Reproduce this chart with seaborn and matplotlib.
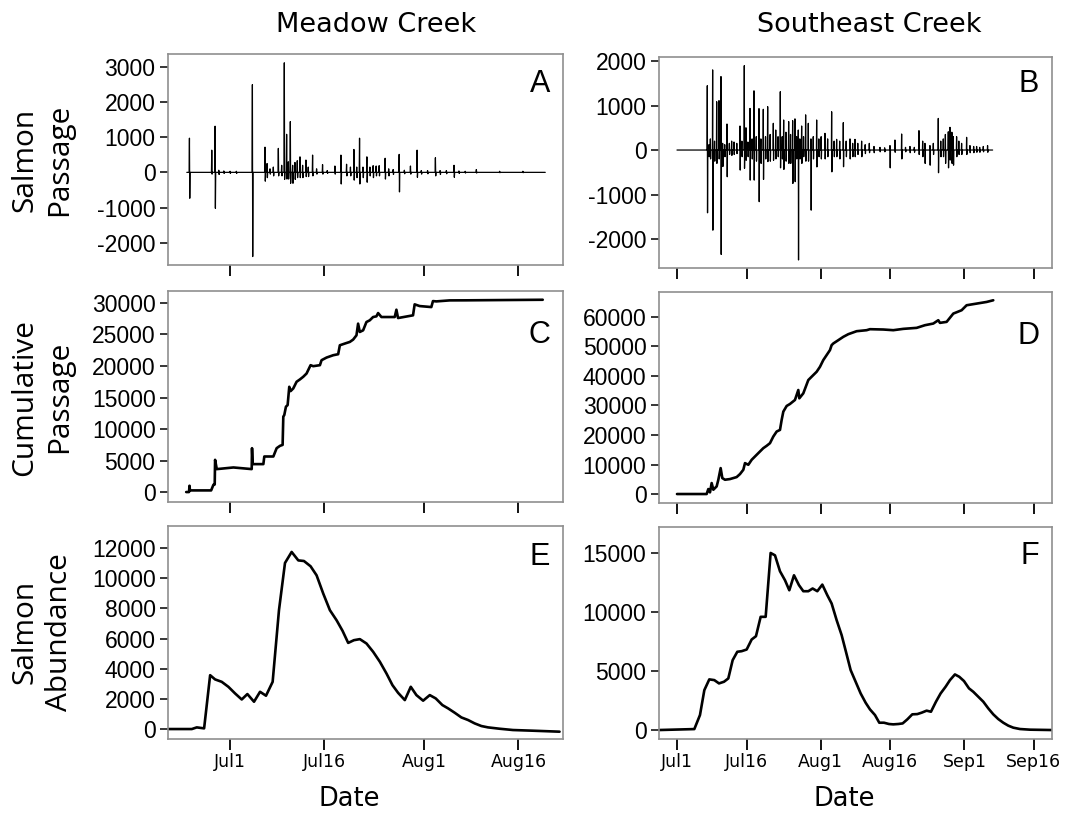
import numpy as np
import pandas as pd
import seaborn as sns
import matplotlib.pyplot as plt

# ---- data (days since Jul 1) ----

# A: Meadow Creek passage spikes (day, peak up, peak down)
a_start, a_end = -6.90, 50.27
a_day = [-6.48, -2.92, -2.39, -1.8, -1.0, 0.0, 1.0, 3.56, 5.57, 5.9, 6.37, 6.90,
         7.70, 8.23, 8.65, 9.02, 9.29, 9.61, 9.98, 10.35, 10.72, 11.15, 11.57,
         12.10, 12.47, 13.16, 13.80, 14.75, 15.5, 16.72, 17.68, 18.58, 19.2,
         19.75, 20.2, 20.65, 21.2, 21.82, 22.3, 22.82, 23.3, 23.78, 24.73, 25.3,
         26.01, 26.97, 27.8, 28.77, 29.83, 30.5, 31.5, 32.75, 33.5, 34.5, 35.72,
         36.5, 37.5, 39.28, 42.99, 46.7]
a_up = [970, 630, 1310, 60, 40, 30, 30, 2490, 715, 250, 100, 150,
        680, 200, 3110, 1080, 300, 1440, 200, 280, 330, 440, 200,
        350, 150, 490, 100, 220, 50, 180, 490, 230, 150,
        650, 150, 970, 150, 440, 150, 190, 180, 190, 400, 100,
        80, 510, 60, 180, 630, 50, 50, 415, 50, 50, 200,
        40, 30, 80, 30, 30]
a_down = [-735, -50, -1020, -60, -30, -30, -30, -2390, -250, -150, -50, -100,
          -100, -100, -200, -190, -190, -310, -310, -200, -150, -150, -150,
          -120, -120, -100, -50, -50, -30, -50, -330, -100, -100,
          -220, -150, -330, -150, -280, -100, -150, -100, -100, -190, -100,
          -60, -555, -40, -50, -140, -50, -40, -100, -60, -40, -140,
          -30, -20, -20, -10, -10]

# B: Southeast Creek passage spikes
b_start, b_end = 0.0, 68.09
b_day = [6.54, 6.9, 7.2, 7.69, 8.1, 8.56, 9.06, 9.49, 9.85, 10.3, 10.79, 11.3,
         11.79, 12.3, 12.9, 13.59, 14.0, 14.52, 14.88, 15.3, 15.75, 16.2, 16.61,
         17.1, 17.69, 18.1, 18.62, 19.1, 19.56, 20.1, 20.78, 21.3, 21.8, 22.29,
         22.7, 23.01, 23.5, 24.09, 24.5, 24.95, 25.45, 25.8, 26.17, 26.5, 26.89,
         27.3, 27.75, 28.33, 28.90, 29.4, 30.13, 30.6, 31.1, 31.92, 32.5, 33.36,
         33.9, 34.44, 35.1, 35.88, 36.5, 37.32, 37.9, 38.40, 39.0, 39.83, 40.6,
         41.49, 42.5, 43.79, 44.8, 45.95, 47.02, 48.46, 49.3, 50.26, 51.2, 52.20,
         53.0, 53.49, 54.57, 55.3, 56.37, 56.9, 57.45, 57.9, 58.53, 58.89, 59.3,
         59.61, 60.32, 60.8, 61.40, 62.48, 63.2, 64.0, 64.64, 65.3, 66.08, 67.0]
b_up = [1445, 120, 250, 1800, 200, 1085, 1110, 1650, 150, 120, 585, 150,
        200, 180, 150, 540, 200, 1895, 500, 180, 935, 250, 1330,
        300, 930, 250, 915, 300, 975, 350, 600, 450, 300, 1310,
        300, 675, 400, 640, 350, 660, 700, 300, 450, 250, 540,
        300, 790, 600, 250, 300, 675, 250, 300, 375, 250, 860,
        200, 240, 200, 615, 200, 250, 150, 240, 150, 200, 120,
        150, 80, 60, 50, 100, 225, 360, 60, 80, 60, 435,
        200, 150, 100, 150, 710, 200, 250, 350, 410, 510, 400,
        300, 300, 200, 150, 285, 100, 80, 80, 60, 80, 100]
b_down = [-1410, -150, -200, -1800, -250, -300, -200, -2345, -370, -150, -600, -100,
          -120, -100, -80, -450, -150, -410, -230, -150, -675, -200, -675,
          -250, -1160, -300, -660, -200, -260, -250, -230, -200, -150, -400,
          -200, -435, -250, -300, -300, -750, -710, -200, -2470, -200, -300,
          -150, -250, -250, -1350, -200, -380, -150, -200, -200, -150, -490,
          -150, -150, -200, -375, -150, -200, -150, -150, -100, -150, -80,
          -60, -60, -40, -40, -400, -50, -200, -40, -60, -50, -100,
          -150, -300, -340, -100, -510, -150, -150, -300, -400, -225, -300,
          -340, -150, -100, -100, -100, -60, -60, -50, -50, -40, -50]

# C: Meadow Creek cumulative passage
c_day = [-7.00, -6.55, -6.47, -6.40, -3.02, -2.65, -2.45, -2.39, -2.12, -1.59, 0.53,
         3.45, 3.50, 3.61, 5.31, 5.46, 6.90, 7.43, 7.96, 8.38, 8.49, 8.65, 8.91,
         9.18, 9.44, 9.66, 10.08, 10.61, 11.14, 11.67, 12.20, 12.84, 13.26, 14.33,
         14.59, 15.39, 16.45, 17.24, 17.51, 18.30, 19.10, 19.63, 20.16, 20.42,
         20.69, 21.22, 21.75, 22.28, 22.81, 23.34, 23.61, 24.14, 25.47, 26.26,
         26.53, 26.79, 29.18, 29.44, 30.24, 32.10, 32.36, 32.89, 35.01, 37.66,
         42.97, 49.87]
c_val = [0, 0, 1000, 260, 260, 1160, 1200, 5110, 3640, 3690, 3900,
         3640, 6960, 4430, 4430, 5640, 5640, 6960, 7330, 7480, 11960, 12230, 13540,
         13800, 16700, 16020, 16440, 17500, 17870, 18290, 18810, 20130, 19970, 20130,
         20920, 21340, 21710, 21870, 23290, 23560, 23820, 24190, 24870, 26720,
         25400, 25660, 26980, 27250, 27770, 27880, 28400, 27770, 27770, 27770,
         28930, 27610, 28040, 29780, 29510, 29350, 30300, 30250, 30410, 30420,
         30460, 30510]

# D: Southeast Creek cumulative passage
d_day = [0.0, 6.40, 6.76, 7.12, 7.48, 7.84, 8.56, 8.92, 9.42, 9.78, 10.35, 11.43,
         12.87, 13.59, 14.31, 14.67, 15.39, 16.11, 16.82, 17.54, 18.62, 19.34,
         20.06, 20.78, 21.50, 22.22, 22.58, 22.94, 23.66, 24.37, 25.45, 26.17,
         26.39, 27.25, 28.33, 29.05, 30.13, 30.85, 31.56, 32.28, 33.00, 33.36,
         33.72, 34.80, 35.88, 36.96, 38.76, 40.91, 41.63, 44.51, 46.66, 48.82,
         51.70, 53.49, 55.29, 56.37, 56.73, 58.17, 59.61, 61.40, 62.48, 64.64,
         66.80, 68.23]
d_val = [0, 0, 1690, 560, 3720, 1460, 2590, 4840, 8780, 5400, 4840, 5070,
         5740, 6760, 8220, 10470, 9910, 11600, 12720, 13850, 15540, 16330,
         17230, 19480, 21170, 21730, 25110, 27920, 29840, 30510, 31870, 35240,
         32430, 34120, 38620, 39750, 41430, 43120, 45380, 47070, 48760, 50440,
         51010, 52130, 53260, 54160, 55170, 55510, 55850, 55740, 55510, 55960,
         56300, 57200, 57760, 58890, 57990, 58330, 61140, 62270, 63960, 64520,
         65080, 65650]

# E: Meadow Creek abundance
e_day = [-9.82, -6.10, -5.31, -4.14, -3.18, -2.39, -1.33, -0.27, 0.80, 1.86, 2.76,
         3.82, 4.78, 5.73, 6.79, 7.80, 8.76, 9.82, 10.88, 11.78, 12.84, 13.80,
         14.86, 15.92, 16.99, 17.94, 18.84, 19.75, 20.70, 21.76, 22.82, 23.89,
         24.95, 25.90, 26.80, 27.87, 28.82, 29.72, 30.79, 31.85, 32.80, 33.86,
         34.77, 35.83, 36.89, 37.95, 39.01, 40.08, 41.14, 43.00, 45.12, 48.30,
         52.55]
e_val = [0, 0, 110, 45, 3570, 3290, 3130, 2800, 2360, 1960, 2320,
         1810, 2470, 2210, 3130, 7880, 11010, 11740, 11180, 11140, 10790, 10190,
         8980, 7880, 7210, 6510, 5710, 5890, 5960, 5670, 5120, 4460,
         3680, 2910, 2400, 1920, 2800, 2250, 1880, 2250, 2030, 1590,
         1370, 1080, 770, 600, 375, 200, 110, 20, -65, -110,
         -175]

# F: Southeast Creek abundance
f_day = [-3.88, 3.74, 4.96, 5.90, 6.97, 8.05, 9.06, 10.14, 11.07, 12.01, 13.01,
         13.95, 15.03, 16.11, 17.04, 18.05, 19.13, 20.20, 21.14, 22.22, 23.30,
         24.23, 25.24, 26.32, 27.25, 28.33, 29.26, 30.27, 31.35, 32.43, 33.36,
         34.44, 35.52, 36.45, 37.46, 38.54, 39.62, 40.70, 41.63, 42.71, 43.64,
         44.65, 45.73, 46.66, 47.74, 48.68, 49.68, 50.76, 51.84, 52.78, 53.85,
         54.79, 55.87, 56.87, 57.95, 58.89, 59.96, 60.90, 61.91, 62.99, 63.92,
         65.00, 66.08, 67.16, 68.23, 69.31, 70.39, 71.47, 72.55, 73.99, 76.15,
         80.82]
f_val = [0, 80, 1270, 3380, 4290, 4230, 3950, 4090, 4370, 5920, 6630,
         6680, 6820, 7670, 7950, 9590, 9590, 15000, 14800, 13450, 12690,
         11840, 13110, 12270, 11760, 11760, 11990, 11760, 12320, 11420, 10720,
         9310, 8040, 6630, 5080, 4090, 3100, 2310, 1750, 1270, 620,
         620, 510, 480, 510, 560, 900, 1330, 1350, 1470, 1640,
         1550, 2400, 3100, 3670, 4230, 4710, 4510, 4150, 3530, 3240,
         2820, 2400, 1830, 1330, 930, 620, 370, 200, 85, 30,
         0]

left_ticks = ["2013-07-01", "2013-07-16", "2013-08-01", "2013-08-16"]
left_labels = ["Jul1", "Jul16", "Aug1", "Aug16"]
right_ticks = left_ticks + ["2013-09-01", "2013-09-16"]
right_labels = left_labels + ["Sep1", "Sep16"]

base = pd.Timestamp("2013-07-01")


def to_date(days):
    return base + pd.to_timedelta(np.asarray(days, dtype=float), unit="D")


def spike_line(start, end, days, ups, downs):
    xs, ys = [start], [0]
    for d, u, dn in zip(days, ups, downs):
        xs += [d - 0.05, d, d + 0.05, d + 0.1]
        ys += [0, u, dn, 0]
    xs.append(end)
    ys.append(0)
    return pd.DataFrame({"date": to_date(xs), "value": ys})


def series(days, vals):
    return pd.DataFrame({"date": to_date(days), "value": vals})


sns.set_theme(style="white", rc={"text.color": "black", "xtick.color": "black",
                                 "ytick.color": "black", "axes.labelcolor": "black"})
plt.rcParams["font.family"] = ["Liberation Sans", "DejaVu Sans"]

W, H = 1083, 813
fig = plt.figure(figsize=(W / 100, H / 100), dpi=100)


def pos(l, r, t, b):
    return [l / W, 1 - b / H, (r - l) / W, (b - t) / H]


panels = [
    # data, box, ylim, yticks, letter, letter y, col, thin line
    (spike_line(a_start, a_end, a_day, a_up, a_down), (168, 563, 54, 265),
     (-2630, 3360), [-2000, -1000, 0, 1000, 2000, 3000], "A", 0.86, 0, True),
    (spike_line(b_start, b_end, b_day, b_up, b_down), (659, 1052, 57, 268),
     (-2650, 2090), [-2000, -1000, 0, 1000, 2000], "B", 0.87, 1, True),
    (series(c_day, c_val), (168, 563, 291, 502),
     (-1580, 31900), [0, 5000, 10000, 15000, 20000, 25000, 30000], "C", 0.79, 0, False),
    (series(d_day, d_val), (659, 1052, 292, 503),
     (-3040, 68450), [0, 10000, 20000, 30000, 40000, 50000, 60000], "D", 0.79, 1, False),
    (series(e_day, e_val), (168, 563, 526, 739),
     (-660, 13460), [0, 2000, 4000, 6000, 8000, 10000, 12000], "E", 0.855, 0, False),
    (series(f_day, f_val), (659, 1052, 527, 739),
     (-760, 17200), [0, 5000, 10000, 15000], "F", 0.863, 1, False),
]

for i, (df, box, ylim, yticks, letter, ly, col, thin) in enumerate(panels):
    ax = fig.add_axes(pos(*box))
    sns.lineplot(data=df, x="date", y="value", ax=ax, color="black",
                 linewidth=0.9 if thin else 1.9, estimator=None, sort=False)
    if col == 0:
        ax.set_xlim(to_date([-9.9])[0], to_date([53.1])[0])
        ticks, labels = left_ticks, left_labels
    else:
        ax.set_xlim(to_date([-3.88])[0], to_date([80.9])[0])
        ticks, labels = right_ticks, right_labels
    ax.set_xticks(pd.to_datetime(ticks))
    if i >= 4:
        ax.set_xticklabels(labels, fontfamily="DejaVu Sans", fontsize=12.5)
    else:
        ax.set_xticklabels([])
    ax.set_ylim(*ylim)
    ax.set_yticks(yticks)
    ax.set_yticklabels([str(v) for v in yticks], fontsize=16.5)
    ax.set_xlabel("")
    ax.set_ylabel("")
    for sp in ax.spines.values():
        sp.set_color("#8f8f8f")
        sp.set_linewidth(1.2)
    ax.tick_params(axis="y", left=True, length=6, width=1.1, color="black",
                   pad=3, labelcolor="black")
    ax.tick_params(axis="x", bottom=True, length=8, width=1.3, color="black",
                   pad=2, labelcolor="black")
    ax.text(0.967, ly, letter, transform=ax.transAxes, ha="right", va="center",
            fontsize=22, color="black")

fig.text(376 / W, 1 - 32 / H, "Meadow Creek", ha="center", va="baseline",
         fontsize=19.5, family="DejaVu Sans")
fig.text(869 / W, 1 - 32 / H, "Southeast Creek", ha="center", va="baseline",
         fontsize=19.5, family="DejaVu Sans")
fig.text(349 / W, 1 - 806 / H, "Date", ha="center", va="baseline",
         fontsize=18.5, family="DejaVu Sans")
fig.text(844 / W, 1 - 806 / H, "Date", ha="center", va="baseline",
         fontsize=18.5, family="DejaVu Sans")

row_labels = ["Salmon\nPassage", "Cumulative\nPassage", "Salmon\nAbundance"]
row_centers = [160, 397, 632]
for lab, yc in zip(row_labels, row_centers):
    fig.text(42 / W, 1 - yc / H, lab, rotation=90, ha="center", va="center",
             fontsize=21.5, family="Open Sans", linespacing=1.25,
             multialignment="center")

fig.savefig("out.png", dpi=100, facecolor="white")
